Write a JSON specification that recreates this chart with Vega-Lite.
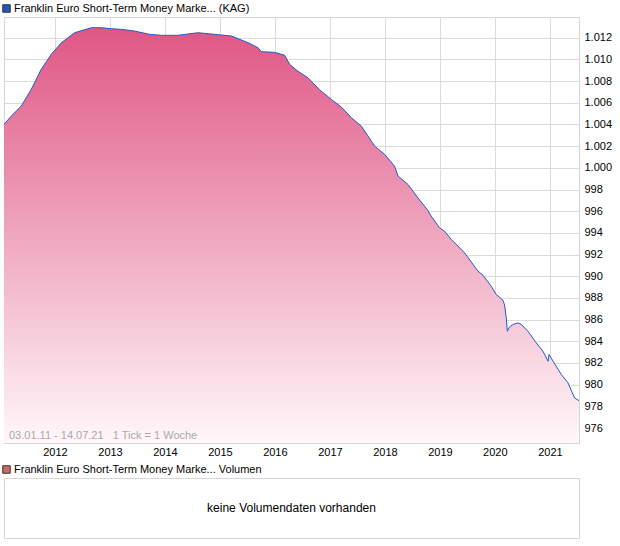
{
  "$schema": "https://vega.github.io/schema/vega-lite/v6.json",
  "padding": {"left": 0, "top": 2, "right": 0, "bottom": 0},
  "bounds": "flush",
  "spacing": 35,
  "background": "white",
  "datasets": {
    "kurs": [
      {"datum": "2011-01-28", "kurs": 1004.0},
      {"datum": "2011-03-17", "kurs": 1004.77},
      {"datum": "2011-05-23", "kurs": 1005.7},
      {"datum": "2011-07-28", "kurs": 1007.24},
      {"datum": "2011-10-02", "kurs": 1009.08},
      {"datum": "2011-12-08", "kurs": 1010.47},
      {"datum": "2012-02-13", "kurs": 1011.54},
      {"datum": "2012-05-11", "kurs": 1012.46},
      {"datum": "2012-08-30", "kurs": 1012.92},
      {"datum": "2012-11-05", "kurs": 1012.92},
      {"datum": "2013-01-11", "kurs": 1012.83},
      {"datum": "2013-03-18", "kurs": 1012.77},
      {"datum": "2013-06-12", "kurs": 1012.62},
      {"datum": "2013-09-21", "kurs": 1012.31},
      {"datum": "2013-12-08", "kurs": 1012.22},
      {"datum": "2014-03-29", "kurs": 1012.22},
      {"datum": "2014-08-08", "kurs": 1012.46},
      {"datum": "2014-11-26", "kurs": 1012.31},
      {"datum": "2015-03-18", "kurs": 1012.16},
      {"datum": "2015-07-07", "kurs": 1011.54},
      {"datum": "2015-09-11", "kurs": 1011.08},
      {"datum": "2015-10-03", "kurs": 1010.71},
      {"datum": "2015-12-30", "kurs": 1010.65},
      {"datum": "2016-03-06", "kurs": 1010.38},
      {"datum": "2016-04-08", "kurs": 1009.55},
      {"datum": "2016-06-03", "kurs": 1008.9},
      {"datum": "2016-08-08", "kurs": 1008.3},
      {"datum": "2016-10-24", "kurs": 1007.2},
      {"datum": "2017-01-10", "kurs": 1006.31},
      {"datum": "2017-03-18", "kurs": 1005.6},
      {"datum": "2017-05-23", "kurs": 1004.62},
      {"datum": "2017-07-28", "kurs": 1003.85},
      {"datum": "2017-09-11", "kurs": 1002.93},
      {"datum": "2017-10-25", "kurs": 1002.0},
      {"datum": "2017-12-30", "kurs": 1001.24},
      {"datum": "2018-03-06", "kurs": 1000.16},
      {"datum": "2018-03-29", "kurs": 999.24},
      {"datum": "2018-06-03", "kurs": 998.47},
      {"datum": "2018-08-08", "kurs": 997.23},
      {"datum": "2018-10-13", "kurs": 996.07},
      {"datum": "2018-11-04", "kurs": 995.55},
      {"datum": "2018-12-30", "kurs": 994.46},
      {"datum": "2019-02-01", "kurs": 994.16},
      {"datum": "2019-03-18", "kurs": 993.39},
      {"datum": "2019-06-14", "kurs": 992.16},
      {"datum": "2019-09-11", "kurs": 990.47},
      {"datum": "2019-10-14", "kurs": 990.1},
      {"datum": "2019-12-08", "kurs": 989.08},
      {"datum": "2020-01-10", "kurs": 988.32},
      {"datum": "2020-02-24", "kurs": 987.79},
      {"datum": "2020-03-06", "kurs": 987.33},
      {"datum": "2020-03-17", "kurs": 986.17},
      {"datum": "2020-03-24", "kurs": 984.93},
      {"datum": "2020-04-08", "kurs": 985.33},
      {"datum": "2020-05-01", "kurs": 985.55},
      {"datum": "2020-06-03", "kurs": 985.7},
      {"datum": "2020-06-25", "kurs": 985.55},
      {"datum": "2020-08-08", "kurs": 984.93},
      {"datum": "2020-10-02", "kurs": 983.85},
      {"datum": "2020-11-16", "kurs": 983.08},
      {"datum": "2020-12-19", "kurs": 982.16},
      {"datum": "2020-12-26", "kurs": 982.78},
      {"datum": "2021-01-22", "kurs": 982.16},
      {"datum": "2021-03-18", "kurs": 980.93},
      {"datum": "2021-05-01", "kurs": 980.16},
      {"datum": "2021-06-14", "kurs": 978.77},
      {"datum": "2021-07-13", "kurs": 978.53}
    ]
  },
  "vconcat": [
    {
      "width": 575,
      "height": 426,
      "title": {
        "text": "03.01.11 - 14.07.21\u00a0\u00a0\u00a01 Tick = 1 Woche",
        "orient": "bottom",
        "anchor": "start",
        "frame": "group",
        "baseline": "bottom",
        "offset": -16,
        "dx": 5,
        "font": "Liberation Sans",
        "fontSize": 11,
        "fontWeight": "normal",
        "color": "#a9a9a9"
      },
      "layer": [
        {
          "data": {"name": "kurs"},
          "mark": {
            "type": "area",
            "clip": true,
            "opacity": 1,
            "line": {"color": "#1f5cc6", "strokeWidth": 1},
            "color": {
              "gradient": "linear",
              "x1": 0, "y1": 0, "x2": 0, "y2": 1,
              "stops": [
                {"offset": 0, "color": "#df5685"},
                {"offset": 1, "color": "#fff7fa"}
              ]
            }
          },
          "encoding": {
            "x": {
              "field": "datum",
              "type": "temporal",
              "title": null,
              "scale": {
                "domain": [
                  {"year": 2011, "month": 1, "date": 28},
                  {"year": 2021, "month": 7, "date": 13}
                ]
              },
              "axis": {
                "format": "%Y",
                "tickCount": {"interval": "year", "step": 1},
                "labelAlign": "center"
              }
            },
            "y": {
              "field": "kurs",
              "type": "quantitative",
              "title": null,
              "scale": {"domain": [974.62, 1013.91], "zero": false, "nice": false},
              "axis": {
                "orient": "right",
                "values": [976, 978, 980, 982, 984, 986, 988, 990, 992, 994, 996, 998, 1000, 1002, 1004, 1006, 1008, 1010, 1012],
                "labelExpr": "datum.value >= 1000 ? '1.' + format(datum.value - 1000, '03d') : format(datum.value, 'd')",
                "labelPadding": 5
              }
            },
            "y2": {"datum": 974.62}
          }
        },
        {
          "data": {"values": [{"reihe": "Franklin Euro Short-Term Money Marke... (KAG)"}]},
          "transform": [{"filter": "false"}],
          "mark": {"type": "point", "filled": true, "shape": "square", "opacity": 1},
          "encoding": {
            "fill": {
              "field": "reihe",
              "type": "nominal",
              "scale": {"domain": ["Franklin Euro Short-Term Money Marke... (KAG)"], "range": ["#2457b8"]},
              "legend": {"orient": "none", "legendX": -3, "legendY": -14, "title": null}
            }
          }
        }
      ]
    },
    {
      "width": 575,
      "height": 60,
      "layer": [
        {
          "data": {"values": [{"hinweis": "keine Volumendaten vorhanden"}]},
          "mark": {"type": "text", "font": "Liberation Sans", "fontSize": 12, "color": "#000000"},
          "encoding": {
            "text": {"field": "hinweis", "type": "nominal"},
            "x": {"datum": 0.5, "type": "quantitative", "scale": {"domain": [0, 1]}, "axis": null},
            "y": {"datum": 0.5, "type": "quantitative", "scale": {"domain": [0, 1]}, "axis": null}
          }
        },
        {
          "data": {"values": [{"reihe": "Franklin Euro Short-Term Money Marke... Volumen"}]},
          "transform": [{"filter": "false"}],
          "mark": {"type": "point", "filled": true, "shape": "square", "opacity": 1},
          "encoding": {
            "fill": {
              "field": "reihe",
              "type": "nominal",
              "scale": {"domain": ["Franklin Euro Short-Term Money Marke... Volumen"], "range": ["#d36868"]},
              "legend": {"orient": "none", "legendX": -3, "legendY": -14, "title": null}
            }
          }
        }
      ]
    }
  ],
  "resolve": {"scale": {"fill": "independent"}, "legend": {"fill": "independent"}},
  "config": {
    "font": "Liberation Sans",
    "view": {"stroke": "#d6d6d6", "strokeWidth": 1},
    "axis": {
      "grid": true,
      "gridColor": "#dcdcdc",
      "gridWidth": 1,
      "ticks": false,
      "domain": false,
      "labelFont": "Liberation Sans",
      "labelFontSize": 11,
      "labelColor": "#000000",
      "labelPadding": 3
    },
    "legend": {
      "padding": 0,
      "symbolType": "square",
      "symbolSize": 56,
      "symbolOpacity": 1,
      "symbolStrokeColor": "#333333",
      "symbolStrokeWidth": 1,
      "labelFont": "Liberation Sans",
      "labelFontSize": 11,
      "labelColor": "#000000",
      "labelLimit": 0,
      "labelOffset": 2
    }
  }
}
